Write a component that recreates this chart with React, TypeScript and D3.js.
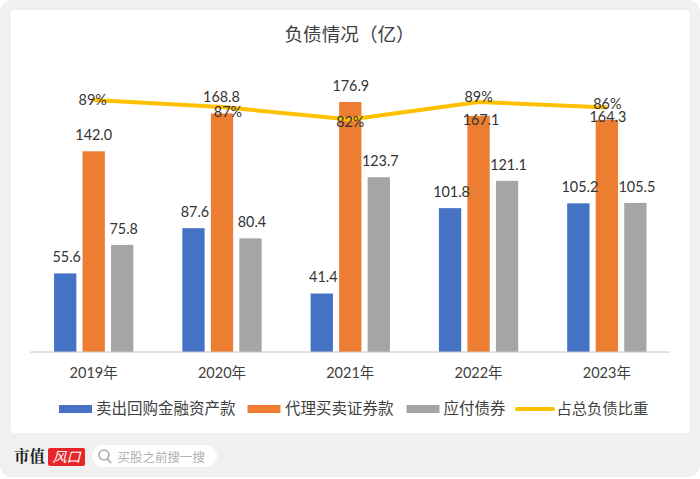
import React from "react";
import * as d3 from "d3";

const years = ["2019年", "2020年", "2021年", "2022年", "2023年"];
const repo = [55.6, 87.6, 41.4, 101.8, 105.2];
const agency = [142.0, 168.8, 176.9, 167.1, 164.3];
const payable = [75.8, 80.4, 123.7, 121.1, 105.5];
const ratio = [89.2, 86.6, 82.0, 88.5, 86.4];
const ratioLabels = ["89%", "87%", "82%", "89%", "86%"];
const seriesNames = ["卖出回购金融资产款", "代理买卖证券款", "应付债券", "占总负债比重"];

// hand-placed label nudges, as in the reference
const agencyNudge = [{ dx: 0, dy: 0 }, { dx: -0.5, dy: 0 }, { dx: 0.5, dy: 0 }, { dx: 2.5, dy: 20.5 }, { dx: 1, dy: 13.5 }];
const ratioNudge = [{ dx: -1, dy: 0 }, { dx: 6, dy: 5 }, { dx: 0, dy: 2.5 }, { dx: 0, dy: -4.7 }, { dx: 0.5, dy: -3.7 }];

const BLUE = "#4472c4", ORANGE = "#ed7d31", GRAY = "#a5a5a5", GOLD = "#ffc000";
const FONT = "Lato, 'Noto Sans CJK SC', sans-serif";
const CJK = "'Noto Sans CJK SC', sans-serif";
const TXT = "#404040";

export default function App() {
  const x = d3.scaleBand().domain(years).range([29.55, 671]);
  const inner = d3.scaleBand().domain(["0", "1", "2"]).range([24.5, 103.8]).paddingInner(0.2175);
  const y = d3.scaleLinear().domain([0, 176.9]).range([352, 102]);
  const yr = d3.scaleLinear().domain([82, 89.2]).range([119.5, 100]);
  const series = [
    { vals: repo, c: BLUE, k: "0" },
    { vals: agency, c: ORANGE, k: "1" },
    { vals: payable, c: GRAY, k: "2" },
  ];
  const cx = (yy: string) => x(yy)! + x.bandwidth() / 2;
  const line = d3.line<number>().x((_, i) => cx(years[i])).y((d) => yr(d));

  const legendItems = [
    { x: 59, w: 33, c: BLUE, tx: 96, t: seriesNames[0] },
    { x: 247.5, w: 33, c: ORANGE, tx: 285, t: seriesNames[1] },
    { x: 406.5, w: 33, c: GRAY, tx: 443.5, t: seriesNames[2] },
  ];

  return (
    <svg width={700} height={479} style={{ position: "absolute", left: 0, top: 0 }}>
      <rect x={0} y={0} width={700} height={479} fill="#fff" />
      <rect x={0} y={0} width={700} height={477} rx={12} fill="#f0f0f0" />
      <rect x={11} y={10} width={678.5} height={423} rx={3} fill="#fff" />

      <text x={284.5} y={41} fontFamily={CJK} fontSize={18.6} fill={TXT}>负债情况（亿）</text>

      {series.map((s) =>
        s.vals.map((v, i) => (
          <rect key={s.k + i} x={x(years[i])! + inner(s.k)!} y={y(v)} width={inner.bandwidth()} height={352 - y(v)} fill={s.c} />
        ))
      )}
      <line x1={30} x2={670} y1={352} y2={352} stroke="#c8c8c8" strokeWidth={1} />

      <path d={line(ratio)!} fill="none" stroke={GOLD} strokeWidth={4} strokeLinejoin="round" />

      {series.map((s) =>
        s.vals.map((v, i) => {
          const n = s.k === "1" ? agencyNudge[i] : { dx: 1.5, dy: 0 };
          return (
            <text key={s.k + "l" + i} x={x(years[i])! + inner(s.k)! + inner.bandwidth() / 2 + n.dx} y={y(v) - 11 + n.dy} textAnchor="middle" fontFamily={FONT} fontSize={14.4} fill="#333">
              {v.toFixed(1)}
            </text>
          );
        })
      )}
      {ratio.map((v, i) => (
        <text key={i} x={cx(years[i]) + ratioNudge[i].dx} y={yr(v) + 5 + ratioNudge[i].dy} textAnchor="middle" fontFamily={FONT} fontSize={14.4} fill="#333">
          {ratioLabels[i]}
        </text>
      ))}

      {years.map((t) => (
        <text key={t} x={cx(t)} y={378} textAnchor="middle" fontFamily={FONT} fontSize={14.5} fill={TXT}>{t}</text>
      ))}

      {legendItems.map((l) => (
        <g key={l.t}>
          <rect x={l.x} y={405} width={l.w} height={8} fill={l.c} />
          <text x={l.tx} y={414} fontFamily={CJK} fontSize={15.5} fill={TXT}>{l.t}</text>
        </g>
      ))}
      <line x1={517} x2={553} y1={409} y2={409} stroke={GOLD} strokeWidth={4} strokeLinecap="round" />
      <text x={556.5} y={414} fontFamily={CJK} fontSize={15.3} fill={TXT}>{seriesNames[3]}</text>

      <text x={14} y={462} fontFamily="'Noto Serif CJK SC', 'Noto Sans CJK SC', serif" fontWeight={700} fontSize={15.5} fill="#222">市值</text>
      <rect x={48} y={448} width={37} height={18} rx={2} fill="#e8262a" />
      <text x={66.5} y={462} textAnchor="middle" fontFamily={CJK} fontStyle="italic" fontSize={14} fill="#fff">风口</text>
      <rect x={92} y={445} width={125} height={22} rx={11} fill="#fff" />
      <circle cx={104} cy={455} r={5} fill="none" stroke="#aaa" strokeWidth={1.6} />
      <line x1={107.5} y1={459} x2={111} y2={463} stroke="#aaa" strokeWidth={1.8} />
      <text x={117.5} y={461.5} fontFamily={CJK} fontSize={12.5} fill="#b0b0b0">买股之前搜一搜</text>
    </svg>
  );
}
